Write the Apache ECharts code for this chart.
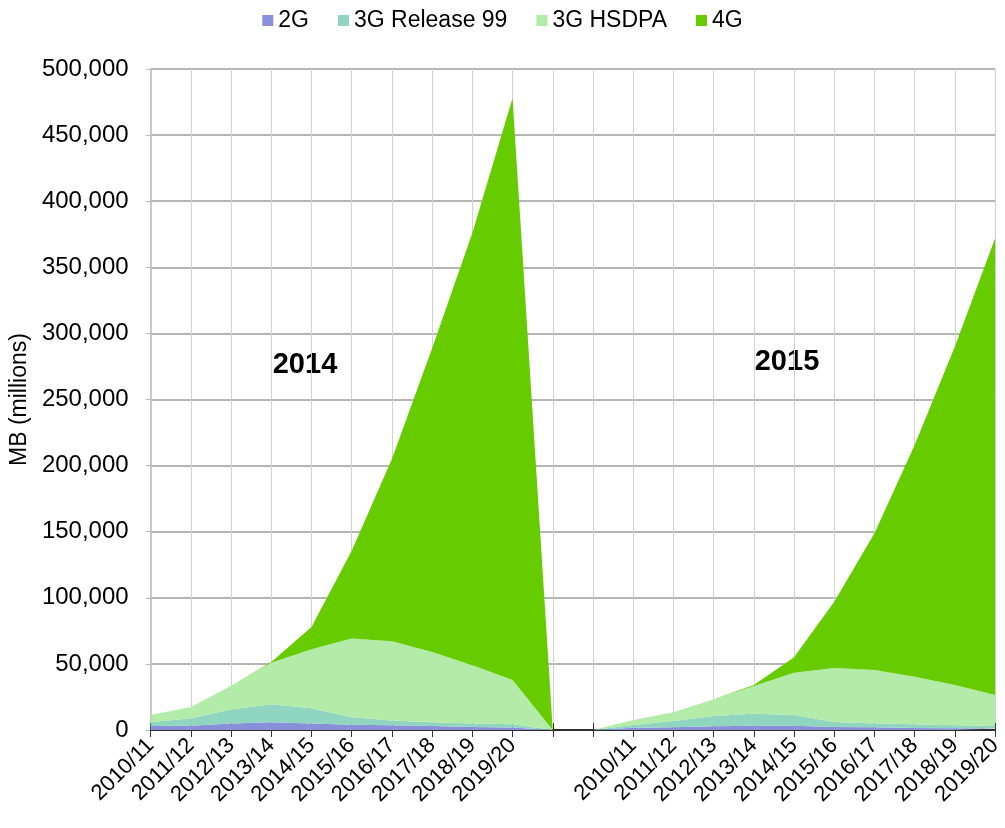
<!DOCTYPE html>
<html>
<head>
<meta charset="utf-8">
<script src="https://cdn.jsdelivr.net/npm/echarts@6/dist/echarts.min.js"></script>
<style>
  html, body { margin: 0; padding: 0; background: #fff; }
  #main { width: 1005px; height: 828px; }
</style>
</head>
<body>
<div id="main"></div>
<script>
// 横轴：两组年份，中间空两格
var years = ['2010/11', '2011/12', '2012/13', '2013/14', '2014/15', '2015/16', '2016/17', '2017/18', '2018/19', '2019/20'];
var categories = years.concat(['', '']).concat(years);

// 各层数据（MB 百万），前 10 个为 2014，后 10 个为 2015
var data2G     = [3000, 3200, 5000, 5800, 5000, 4000, 3500, 3000, 2300, 1800, 0, 0, 1700, 2000, 2800, 3300, 3300, 2300, 2000, 1500, 1300, 1100];
var dataR99    = [2800, 5600, 10600, 13600, 11400, 5600, 3600, 2800, 2700, 2500, 0, 0, 2100, 4800, 7800, 9000, 8000, 3700, 3000, 2800, 2200, 1900];
var dataHSDPA  = [5500, 8600, 17900, 31500, 44600, 59700, 60000, 53200, 44000, 33500, 0, 0, 3800, 6600, 12600, 21000, 32000, 40900, 40400, 36000, 30500, 23500];
var data4G     = [0, 0, 0, 600, 17000, 66200, 137900, 229700, 327000, 440200, 0, 0, 0, 0, 0, 700, 11700, 50100, 103400, 175300, 256000, 345500];

var seriesNames = ['2G', '3G Release 99', '3G HSDPA', '4G'];
var seriesColors = ['#8990d9', '#8fd5c0', '#b3eba9', '#66cc00'];
var seriesData = [data2G, dataR99, dataHSDPA, data4G];

var font = 'Liberation Sans, Arial, sans-serif';

var myChart = echarts.init(document.getElementById('main'));

var series = seriesNames.map(function (name, i) {
  return {
    name: name,
    type: 'line',
    stack: 'total',
    symbol: 'none',
    xAxisIndex: 0,
    lineStyle: { width: 0 },
    itemStyle: { color: seriesColors[i] },
    areaStyle: { color: seriesColors[i], opacity: 1 },
    data: seriesData[i]
  };
});

var option = {
  animation: false,
  backgroundColor: '#fff',
  textStyle: { fontFamily: font },
  legend: {
    data: seriesNames,
    left: 'center',
    top: 4,
    icon: 'rect',
    itemWidth: 11,
    itemHeight: 11,
    itemGap: 29,
    textStyle: { fontSize: 23, color: '#000', fontFamily: font }
  },
  grid: {
    left: 150,
    right: 5,
    top: 69,
    bottom: 98,
    containLabel: false
  },
  xAxis: [
    {
      type: 'category',
      data: categories,
      boundaryGap: false,
      axisLine: { lineStyle: { color: '#000', width: 1.5 } },
      axisTick: { show: true, interval: 0, length: 7, lineStyle: { color: '#333' } },
      axisLabel: { interval: 0, rotate: 45, fontSize: 22, color: '#000', margin: 12, fontFamily: font },
      splitLine: { show: true, interval: 0, lineStyle: { color: '#d2d2d2', width: 1 } }
    },
    {
      // 只画向内的刻度，使刻度线穿过横轴
      type: 'category',
      data: categories,
      position: 'bottom',
      boundaryGap: false,
      axisLine: { show: false },
      axisTick: { show: true, inside: true, interval: 0, length: 7, lineStyle: { color: '#333' } },
      axisLabel: { show: false },
      splitLine: { show: false }
    }
  ],
  yAxis: {
    type: 'value',
    min: 0,
    max: 500000,
    interval: 50000,
    name: 'MB (millions)',
    nameLocation: 'middle',
    nameGap: 112,
    nameTextStyle: { fontSize: 23, color: '#000', fontFamily: font },
    axisLine: { show: true, lineStyle: { color: '#bdbdbd', width: 1.5 } },
    axisTick: { show: true, length: 5, lineStyle: { color: '#bdbdbd' } },
    axisLabel: {
      fontSize: 24,
      color: '#000',
      margin: 22,
      fontFamily: font,
      formatter: function (v) { return v.toLocaleString('en-US'); }
    },
    splitLine: { show: true, lineStyle: { color: '#b5b5b5', width: 2 } }
  },
  graphic: [
    { type: 'text', x: 305, y: 365, style: { text: '2014', font: 'bold 29px Liberation Sans, Arial', fill: '#000', align: 'center', verticalAlign: 'middle' } },
    { type: 'text', x: 787, y: 362, style: { text: '2015', font: 'bold 29px Liberation Sans, Arial', fill: '#000', align: 'center', verticalAlign: 'middle' } }
  ],
  series: series
};
// 使用刚指定的配置项和数据显示图表。
myChart.setOption(option);
</script>
</body>
</html>
